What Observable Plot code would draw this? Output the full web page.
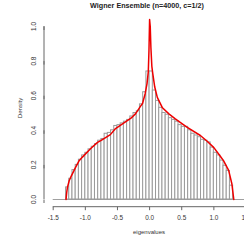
<!DOCTYPE html>
<html><head><meta charset="utf-8">
<script src="https://cdn.jsdelivr.net/npm/d3@7"></script>
<script src="https://cdn.jsdelivr.net/npm/@observablehq/plot@0.6"></script>
<style>body{margin:0;background:#fff} svg{display:block}</style>
</head><body><div id="chart"></div>
<script>
const binLo = [-1.30,-1.25,-1.20,-1.15,-1.10,-1.05,-1.00,-0.95,-0.90,-0.85,-0.80,-0.75,-0.70,-0.65,-0.60,-0.55,-0.50,-0.45,-0.40,-0.35,-0.30,-0.25,-0.20,-0.15,-0.10,-0.05,
  0.00,0.05,0.10,0.15,0.20,0.25,0.30,0.35,0.40,0.45,0.50,0.55,0.60,0.65,0.70,0.75,0.80,0.85,0.90,0.95,1.00,1.05,1.10,1.15,1.20,1.25];
const binHeights = [0.07,0.12,0.17,0.20,0.23,0.255,0.27,0.29,0.305,0.32,0.34,0.35,0.38,0.385,0.40,0.425,0.43,0.44,0.45,0.46,0.48,0.50,0.51,0.55,0.62,0.74,
  0.74,0.63,0.57,0.53,0.50,0.49,0.47,0.46,0.45,0.43,0.42,0.42,0.40,0.38,0.37,0.36,0.345,0.34,0.33,0.30,0.27,0.255,0.225,0.195,0.165,0.08];
const binWidth = 0.05;

const densX = [-1.30,-1.29,-1.278,-1.25,-1.227,-1.15,-1.10,-1.045,-0.92,-0.81,-0.76,-0.61,-0.53,-0.45,-0.37,-0.29,-0.22,-0.14,-0.11,-0.07,-0.04,-0.02,-0.01,0.0,0.01,0.02,0.035,0.05,0.08,0.12,0.20,0.30,0.40,0.58,0.79,0.90,1.00,1.10,1.15,1.23,1.28,1.30,1.31];
const densY = [0,0.04,0.071,0.11,0.129,0.187,0.222,0.245,0.293,0.33,0.34,0.375,0.41,0.43,0.45,0.47,0.495,0.54,0.555,0.61,0.67,0.74,0.86,1.04,1.0,0.88,0.77,0.726,0.65,0.59,0.53,0.495,0.466,0.418,0.37,0.335,0.30,0.25,0.225,0.168,0.091,0.03,0];

const xTicks = [-1.5,-1.0,-0.5,0.0,0.5,1.0,1.5];
const yTicks = [0.0,0.2,0.4,0.6,0.8,1.0];
const title = "Wigner Ensemble (n=4000, c=1/2)";
const xLabel = "eigenvalues";
const yLabel = "Density";

const bins = binLo.map((lo,i)=>({x1:lo, x2:lo+binWidth, y:binHeights[i]}));
const dens = densX.map((x,i)=>({x, y:densY[i]}));

const W = 244, H = 240, mL = 44, mB = 33.3, mT = 26;
const font = "'Liberation Sans', Arial, Helvetica, sans-serif";

const plot = Plot.plot({
  width: W, height: H, marginLeft: mL, marginRight: 0, marginTop: mT, marginBottom: mB,
  style: {fontFamily: font, background: "white", overflow: "hidden"},
  x: {domain: [-1.5, 1.5], insetLeft: 8.7, insetRight: -1.5},
  y: {domain: [0, 1], insetBottom: 7.7},
  marks: [
    Plot.ruleY([0], {x1: -1.5, x2: 1.7, stroke: "#a0a0a0", strokeWidth: 1}),
    Plot.rectY(bins, {x1: "x1", x2: "x2", y: "y", fill: "white", stroke: "#9a9a9a", strokeWidth: 1}),
    Plot.line(dens, {x: "x", y: "y", stroke: "#ee0000", strokeWidth: 1.5}),
    Plot.axisX(xTicks, {tickSize: 3.5, tickPadding: 4.9, fontSize: 6.4, tickFormat: d => d.toFixed(1), stroke: "#666", fill: "#333", label: null}),
    Plot.axisY(yTicks, {tickSize: 3.5, tickPadding: 7.2, rotate: -90, textAnchor: "middle", fontSize: 6.4, tickFormat: d => d.toFixed(1), stroke: "#666", fill: "#333", label: null})
  ]
});

const sx = plot.scale("x"), sy = plot.scale("y");
const svg = d3.select(plot);
svg.append("line").attr("x1", sx.apply(-1.5)).attr("x2", sx.apply(1.5))
  .attr("y1", H - mB).attr("y2", H - mB).attr("stroke", "#666");
svg.append("line").attr("x1", mL).attr("x2", mL)
  .attr("y1", sy.apply(0)).attr("y2", sy.apply(1)).attr("stroke", "#666");
svg.append("text").text(title).attr("x", 147).attr("y", 8.3).attr("text-anchor", "middle")
  .attr("font-family", font).attr("font-weight", "bold").attr("font-size", 7.2).attr("fill", "#222");
svg.append("text").text(xLabel).attr("x", 149).attr("y", 233.8).attr("text-anchor", "middle")
  .attr("font-family", font).attr("font-size", 6).attr("fill", "#333");
svg.append("text").text(yLabel).attr("transform", "translate(22.2,108) rotate(-90)").attr("text-anchor", "middle")
  .attr("font-family", font).attr("font-size", 6.2).attr("fill", "#333");

document.getElementById("chart").append(plot);
</script>
</body></html>
